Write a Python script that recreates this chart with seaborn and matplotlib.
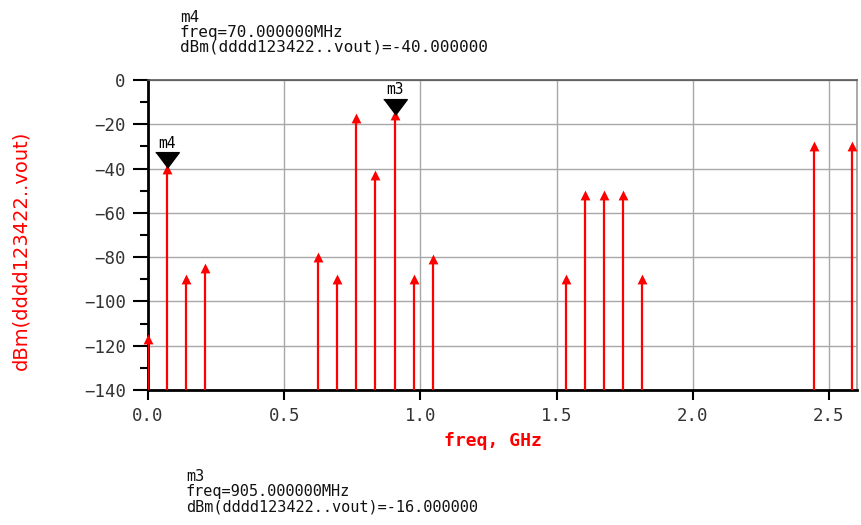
import matplotlib
matplotlib.use("Agg")
import matplotlib.pyplot as plt
import matplotlib.transforms as mtransforms
import pandas as pd
import seaborn as sns

# spectrum lines (GHz, dBm)
freq_ghz = [0.0, 0.070, 0.140, 0.210, 0.625, 0.695, 0.765, 0.835, 0.905,
            0.975, 1.045, 1.535, 1.605, 1.675, 1.745, 1.815, 2.445, 2.585]
level_dbm = [-117, -40, -90, -85, -80, -90, -17, -43, -16,
             -90, -81, -90, -52, -52, -52, -90, -30, -30]

marker_names = ["m4", "m3"]
marker_freq = [0.070, 0.905]
marker_level = [-40, -16]

x_ticks = [0.0, 0.5, 1.0, 1.5, 2.0, 2.5]
x_labels = ["0.0", "0.5", "1.0", "1.5", "2.0", "2.5"]
y_ticks = [0, -20, -40, -60, -80, -100, -120, -140]
y_minor = [-10, -30, -50, -70, -90, -110, -130]

readout_m4 = ["m4", "freq=70.000000MHz", "dBm(dddd123422..vout)=-40.000000"]
readout_m3 = ["m3", "freq=905.000000MHz", "dBm(dddd123422..vout)=-16.000000"]

W, H = 862, 525


def main():
    """Draw the ADS style spectrum with its two markers."""
    sns.set_style("white")
    plt.rcParams["font.family"] = ["DejaVu Sans Mono", "DejaVu Sans"]

    df = pd.DataFrame({"freq": freq_ghz, "level": level_dbm})

    fig = plt.figure(figsize=(W / 100, H / 100), dpi=100)
    ax = fig.add_axes([148 / W, 1 - 390 / H, (857 - 148) / W, (390 - 80) / H])

    # stems plus arrow heads
    ax.vlines(df["freq"], -140, df["level"], color="red", lw=1.6, zorder=3)
    sns.scatterplot(data=df, x="freq", y="level", marker="^", s=50,
                    color="red", edgecolor="red", linewidth=0, ax=ax,
                    legend=False, zorder=4, clip_on=False)

    # marker triangles, tip sitting on the line top
    tri = [(-1.5, 1), (1.5, 1), (0, -1)]
    shift = mtransforms.offset_copy(ax.transData, fig=fig, x=0, y=6,
                                    units="points")
    for name, f, lv in zip(marker_names, marker_freq, marker_level):
        ax.plot([f], [lv], marker=tri, ms=17, color="black", ls="none",
                transform=shift, zorder=5, clip_on=False)
        ax.annotate(name, (f, lv), xytext=(0, 13), textcoords="offset points",
                    ha="center", va="bottom", fontsize=10.5, color="black")

    ax.set_xlim(0, 2.603)
    ax.set_ylim(-140, 0)
    ax.set_xticks(x_ticks)
    ax.set_xticklabels(x_labels)
    ax.set_yticks(y_ticks)
    ax.set_yticks(y_minor, minor=True)
    ax.grid(True, which="major", color="#a8a8a8", lw=1)
    ax.tick_params(axis="y", which="major", direction="out", length=11,
                   width=1.5, color="black", pad=5, labelsize=12.5,
                   labelcolor="#333333", left=True)
    ax.tick_params(axis="y", which="minor", direction="out", length=6,
                   width=1.5, color="black", left=True)
    ax.tick_params(axis="x", which="major", direction="out", length=7,
                   width=1.5, color="black", pad=5, labelsize=12.5,
                   labelcolor="#333333", bottom=True)

    for side in ["left", "bottom"]:
        ax.spines[side].set_color("black")
        ax.spines[side].set_linewidth(2)
    ax.spines["top"].set_color("#555555")
    ax.spines["top"].set_linewidth(1.2)
    ax.spines["right"].set_color("#999999")
    ax.spines["right"].set_linewidth(1.2)

    ax.set_xlabel("freq, GHz", color="red", fontsize=13, fontweight="bold",
                  va="center")
    ax.xaxis.set_label_coords((493 - 148) / 709, -(441 - 390) / 310)
    ax.set_ylabel("dBm(dddd123422..vout)", color="red", fontsize=14,
                  family="DejaVu Sans", va="center")
    ax.yaxis.set_label_coords((21 - 148) / 709, 1 - (250 - 80) / 310)

    # marker readouts above and below the plot
    for text, base in zip(readout_m4, [22, 37, 52]):
        fig.text(180 / W, 1 - base / H, text, fontsize=11.5, va="baseline",
                 ha="left", color="#111111")
    for text, base in zip(readout_m3, [481, 496, 511]):
        fig.text(186 / W, 1 - base / H, text, fontsize=11, va="baseline",
                 ha="left", color="#111111")

    fig.savefig("out.png", dpi=100)
    plt.close(fig)


if __name__ == "__main__":
    main()
